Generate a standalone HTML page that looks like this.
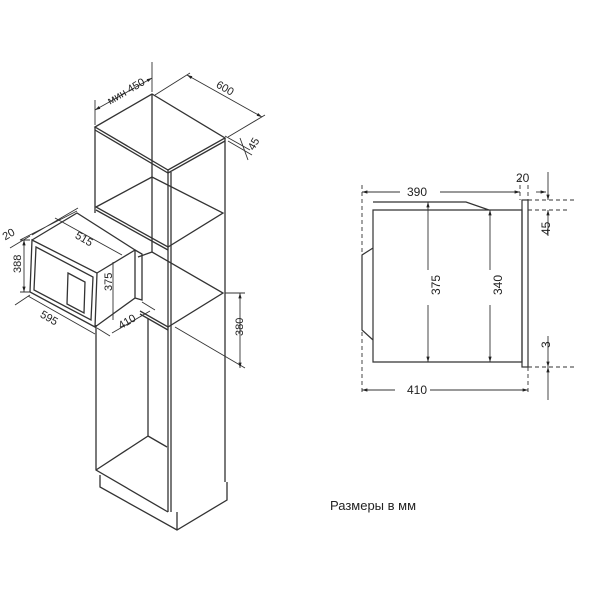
<!DOCTYPE html>
<html><head><meta charset="utf-8"><style>body{margin:0;background:#fff}svg{display:block}text{font-family:"Liberation Sans",sans-serif;fill:#222}</style></head><body>
<svg width="600" height="600" viewBox="0 0 600 600" xmlns="http://www.w3.org/2000/svg">
<defs><marker id="a" viewBox="0 0 10 10" refX="10" refY="5" markerWidth="6" markerHeight="6" orient="auto-start-reverse"><path d="M0,2 L10,5 L0,8z" fill="#222"/></marker></defs>
<g fill="none" stroke="#333" stroke-width="1.3">
<path d="M95,127 L152,94 L225,138 L168,170 Z"/>
<path d="M95,130 L168,173 L225,141"/>
<path d="M95,127 V213 M168,170 V512 M171,172 V512 M225,138 V482 M152,94 V252"/>
<path d="M96,207 L152,177 L223,213 L168,247 Z"/>
<path d="M96,210 L168,250"/>
<path d="M138,257 L152,252 L223,293 L168,327 L140,311"/>
<path d="M140,314 L168,330"/>
<path d="M96,325 V470 L168,512 M148,318 V436 L96,470 M148,436 L167,447"/>
<path d="M100,475 V487 L177,530 L227,500 V482 M177,512 V530"/>
<path d="M32,240 L97,273 L95,327 L30,292 Z"/>
<path d="M32,240 L77,213 L135,250 L97,273 M135,250 V298 L95,327"/>
<path d="M36,247 L93,277 L91,320 L34,290 Z"/>
<path d="M68,273 L85,282 L84,313 L67,304 Z"/>
<path d="M135,250 L142,254 V300 L135,298"/>
</g>
<g stroke="#333" stroke-width="0.9" fill="none">
<path d="M95,125 V100 M152,92 V62"/>
<path d="M95,110 L152,78" marker-start="url(#a)" marker-end="url(#a)"/>
<path d="M155,95 L190,73 M228,137 L265,115"/>
<path d="M187,75 L262,117" marker-start="url(#a)" marker-end="url(#a)"/>
<path d="M225,136 L250,150 M228,141 L252,155 M240,138 L248,160"/>
<path d="M30,236 L10,248 M77,211 L20,240 M32,235 L78,208"/>
<path d="M30,240 H20 M30,292 H20"/>
<path d="M24,240 V292" marker-start="url(#a)" marker-end="url(#a)"/>
<path d="M55,218 L122,255 M28,296 L95,334 M30,295 L15,305"/>
<path d="M97,328 L110,336 M142,302 L155,310 M112,333 L150,311"/>
<path d="M225,293 L245,293 M175,327 L245,368"/>
<path d="M240,293 V368" marker-start="url(#a)" marker-end="url(#a)"/>
<path d="M113,262 V320"/>
<path d="M373,210 H522 V362 H373 Z M373,202 H466 L489,210 M373,248 L362,255 V330 L373,340" stroke-width="1.2"/>
<rect x="522" y="200" width="6" height="167" stroke-width="1.2"/>
<path d="M362,185 V395 M528,185 V395 M520,178 V200" stroke-dasharray="4,3"/>
<path d="M528,200 H575 M528,367 H575 M528,210 H570" stroke-dasharray="4,3"/>
<path d="M400,192 H362" marker-end="url(#a)"/>
<path d="M440,192 H520" marker-end="url(#a)"/>
<path d="M395,390 H362" marker-end="url(#a)"/>
<path d="M430,390 H528" marker-end="url(#a)"/>
<path d="M428,270 V202" marker-end="url(#a)"/>
<path d="M428,305 V362" marker-end="url(#a)"/>
<path d="M490,270 V210" marker-end="url(#a)"/>
<path d="M490,305 V362" marker-end="url(#a)"/>
<path d="M548,172 V200" marker-end="url(#a)"/>
<path d="M548,236 V210" marker-end="url(#a)"/>
<path d="M548,336 V367" marker-end="url(#a)"/>
<path d="M548,400 V367" marker-end="url(#a)"/>
<path d="M536,192 H546" marker-end="url(#a)"/>
</g>
<g font-size="11">
<text x="105" y="98" transform="rotate(-30 120 92)">мин 450</text>
<text x="215" y="92" transform="rotate(30 225 90)">600</text>
<text x="245" y="148" transform="rotate(-60 252 142)">45</text>
<text x="2" y="237" transform="rotate(-30 10 233)">20</text>
<text x="75" y="243" transform="rotate(30 85 239)">515</text>
<text x="10" y="274" transform="rotate(-90 15 268)">388</text>
<text x="101" y="290" transform="rotate(-90 107 285)">375</text>
<text x="40" y="322" transform="rotate(30 50 318)">595</text>
<text x="117" y="325" transform="rotate(-30 127 320)">410</text>
<text x="232" y="335" transform="rotate(-90 238 330)">380</text>
</g>
<g font-size="12">
<text x="407" y="196">390</text>
<text x="516" y="182">20</text>
<text x="407" y="394">410</text>
<text x="421" y="300" transform="rotate(-90 428 288)">375</text>
<text x="483" y="300" transform="rotate(-90 490 288)">340</text>
<text x="539" y="232" transform="rotate(-90 546 228)">45</text>
<text x="543" y="349" transform="rotate(-90 546 345)">3</text>
<text x="330" y="510" font-size="13">Размеры в мм</text>
</g>
</svg>
</body></html>
